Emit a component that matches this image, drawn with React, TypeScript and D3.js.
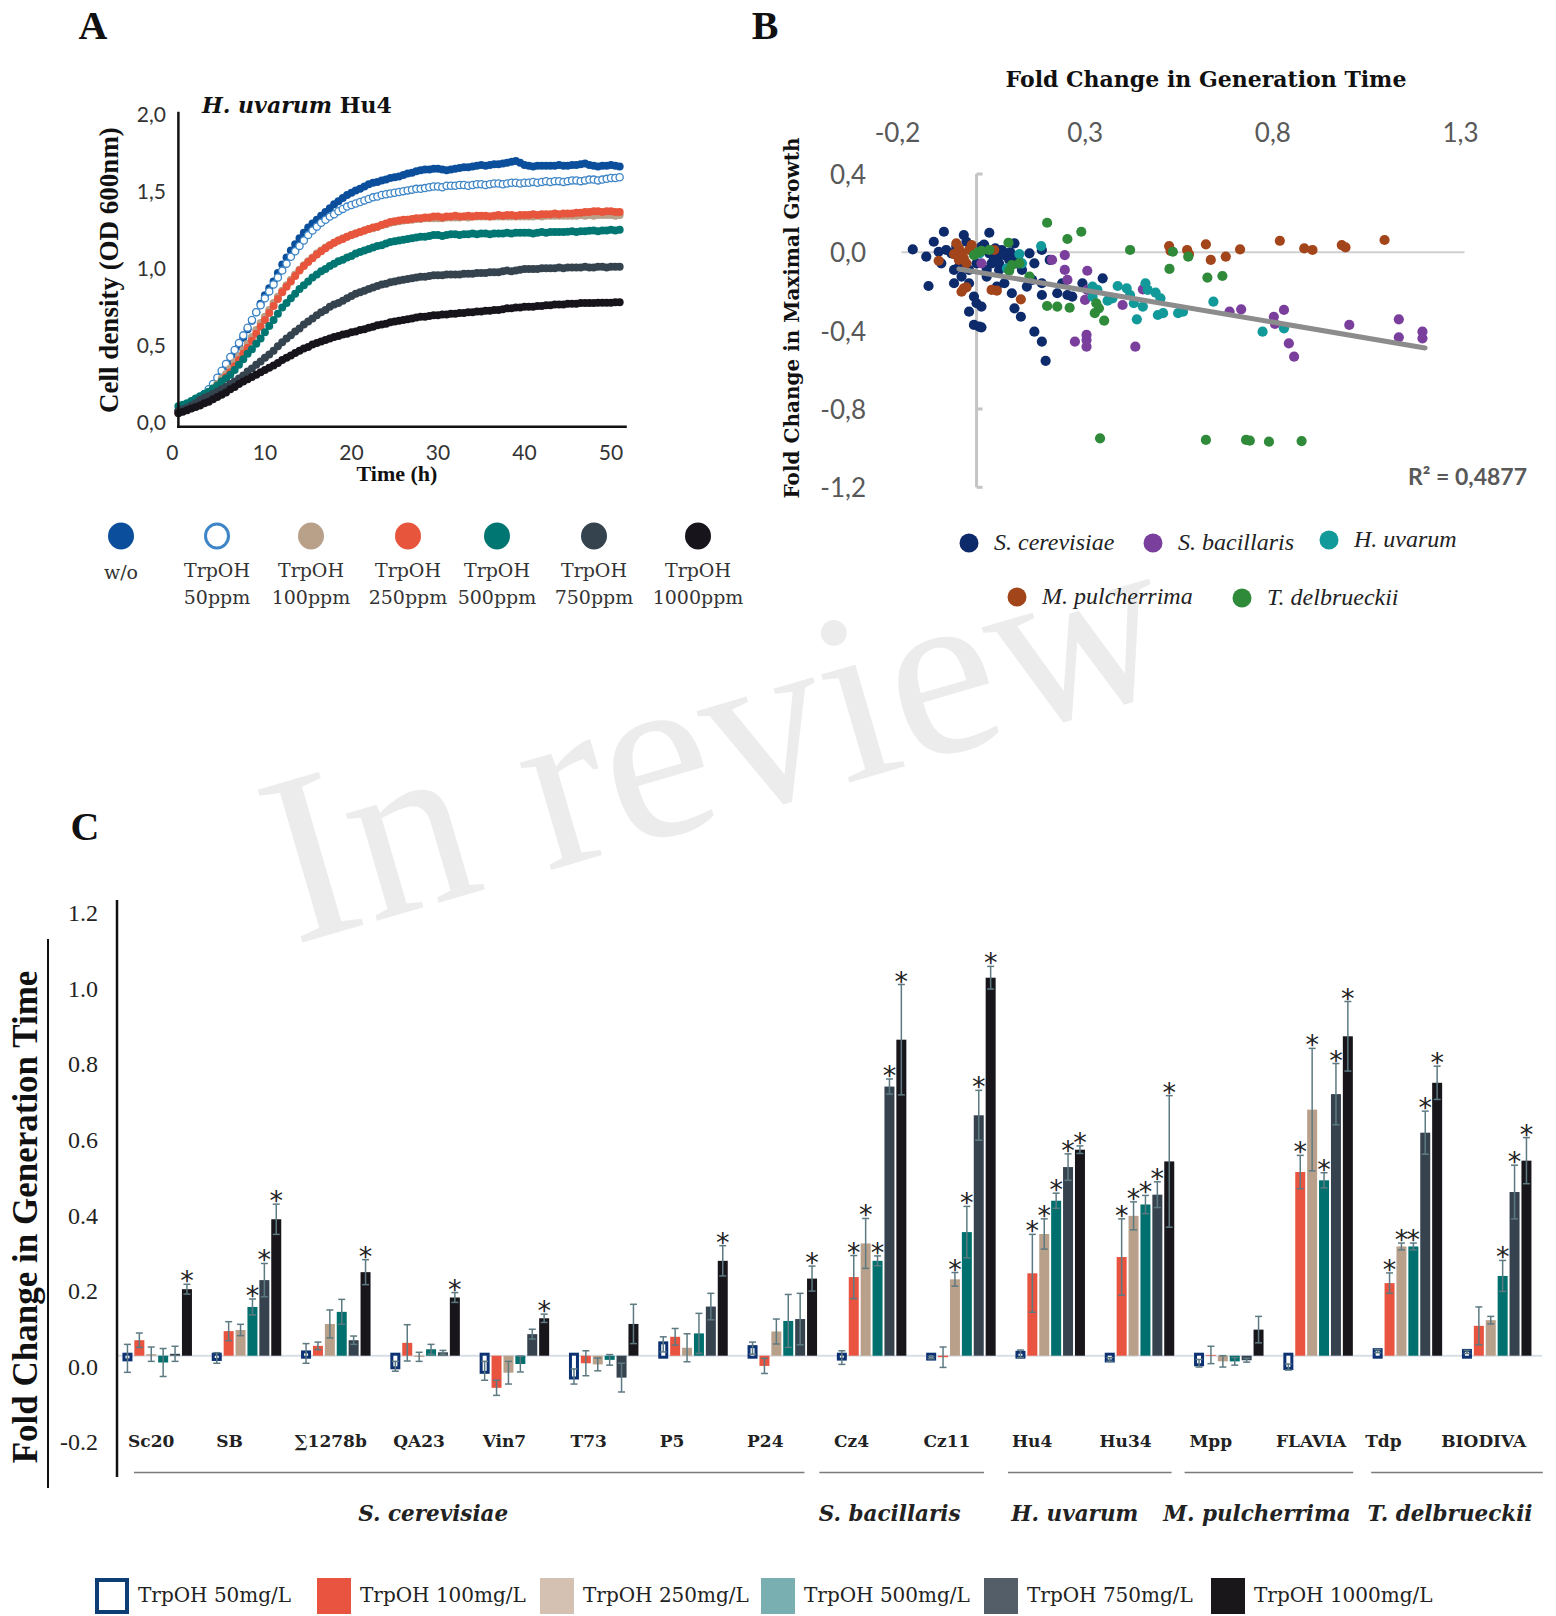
import React from "react";
import * as d3 from "d3";

// ---------------- Panel A data (OD600 every 0.5 h) ----------------
const timeHours = d3.range(0, 51.001, 0.5);
const odWithout = [
  0.07,0.085,0.10,0.115,0.13,0.15,0.17,0.195,0.22,0.25,
  0.30,0.345,0.39,0.44,0.49,0.545,0.60,0.655,0.71,0.765,
  0.82,0.865,0.91,0.965,1.02,1.065,1.11,1.15,1.19,1.225,
  1.26,1.285,1.31,1.335,1.36,1.385,1.41,1.43,1.45,1.47,
  1.485,1.50,1.51,1.525,1.54,1.55,1.555,1.565,1.57,1.58,
  1.585,1.59,1.60,1.61,1.615,1.625,1.63,1.635,1.635,1.64,
  1.64,1.635,1.63,1.635,1.64,1.645,1.65,1.65,1.655,1.66,
  1.665,1.66,1.665,1.67,1.67,1.675,1.68,1.685,1.69,1.68,
  1.665,1.66,1.655,1.66,1.66,1.66,1.66,1.66,1.665,1.66,
  1.66,1.665,1.665,1.67,1.675,1.665,1.66,1.655,1.66,1.66,
  1.665,1.66,1.655];
const od50 = [
  0.07,0.085,0.10,0.115,0.135,0.155,0.18,0.21,0.245,0.285,
  0.33,0.375,0.42,0.465,0.51,0.56,0.61,0.66,0.71,0.755,
  0.80,0.845,0.89,0.935,0.98,1.025,1.07,1.105,1.14,1.175,
  1.21,1.24,1.265,1.29,1.31,1.33,1.345,1.365,1.38,1.395,
  1.405,1.415,1.425,1.435,1.445,1.455,1.46,1.47,1.475,1.48,
  1.485,1.49,1.495,1.50,1.505,1.51,1.51,1.515,1.52,1.525,
  1.525,1.52,1.53,1.53,1.53,1.535,1.535,1.53,1.535,1.54,
  1.54,1.535,1.54,1.545,1.545,1.54,1.545,1.55,1.55,1.545,
  1.55,1.55,1.555,1.55,1.555,1.56,1.555,1.56,1.56,1.555,
  1.56,1.565,1.565,1.56,1.565,1.57,1.57,1.565,1.57,1.575,
  1.58,1.58,1.585];
const od100 = [
  0.06,0.075,0.09,0.105,0.125,0.145,0.165,0.19,0.215,0.245,
  0.28,0.31,0.345,0.385,0.425,0.465,0.505,0.55,0.595,0.64,
  0.68,0.725,0.77,0.81,0.85,0.885,0.92,0.955,0.985,1.015,
  1.04,1.065,1.09,1.11,1.13,1.145,1.16,1.175,1.19,1.20,
  1.21,1.22,1.23,1.24,1.25,1.255,1.265,1.275,1.28,1.29,
  1.295,1.30,1.305,1.31,1.31,1.315,1.315,1.32,1.32,1.32,
  1.32,1.32,1.325,1.325,1.325,1.325,1.33,1.325,1.33,1.33,
  1.33,1.33,1.33,1.33,1.33,1.33,1.33,1.33,1.33,1.33,
  1.33,1.33,1.33,1.335,1.33,1.335,1.335,1.335,1.335,1.335,
  1.335,1.335,1.335,1.34,1.335,1.34,1.335,1.34,1.34,1.34,
  1.34,1.335,1.34];
const od250 = [
  0.06,0.075,0.09,0.105,0.12,0.135,0.155,0.175,0.20,0.23,
  0.26,0.29,0.32,0.36,0.40,0.44,0.48,0.525,0.57,0.615,
  0.66,0.705,0.75,0.795,0.84,0.875,0.91,0.945,0.98,1.01,
  1.035,1.06,1.085,1.105,1.125,1.145,1.16,1.175,1.185,1.20,
  1.21,1.22,1.23,1.24,1.25,1.26,1.265,1.275,1.285,1.295,
  1.30,1.305,1.31,1.31,1.315,1.32,1.32,1.325,1.325,1.33,
  1.33,1.325,1.33,1.33,1.335,1.33,1.33,1.335,1.33,1.335,
  1.335,1.335,1.33,1.335,1.34,1.335,1.34,1.34,1.335,1.34,
  1.34,1.34,1.345,1.34,1.345,1.345,1.345,1.35,1.345,1.35,
  1.35,1.35,1.355,1.355,1.36,1.36,1.365,1.365,1.36,1.365,
  1.365,1.36,1.36];
const od500 = [
  0.10,0.11,0.12,0.135,0.15,0.165,0.18,0.195,0.215,0.235,
  0.26,0.28,0.305,0.335,0.37,0.405,0.44,0.47,0.505,0.54,
  0.58,0.62,0.66,0.70,0.74,0.77,0.80,0.83,0.86,0.885,
  0.91,0.935,0.955,0.975,0.99,1.01,1.025,1.04,1.05,1.065,
  1.075,1.09,1.10,1.11,1.12,1.13,1.14,1.145,1.155,1.165,
  1.17,1.175,1.18,1.185,1.19,1.195,1.20,1.20,1.205,1.21,
  1.21,1.205,1.21,1.215,1.215,1.21,1.215,1.215,1.22,1.215,
  1.22,1.22,1.215,1.22,1.22,1.22,1.225,1.22,1.225,1.225,
  1.225,1.225,1.22,1.225,1.23,1.225,1.23,1.23,1.23,1.23,
  1.232,1.235,1.23,1.235,1.235,1.238,1.24,1.235,1.24,1.24,
  1.245,1.24,1.245];
const od750 = [
  0.07,0.08,0.09,0.105,0.12,0.14,0.155,0.165,0.18,0.195,
  0.21,0.225,0.245,0.26,0.28,0.30,0.325,0.345,0.37,0.39,
  0.415,0.435,0.46,0.49,0.515,0.54,0.56,0.585,0.605,0.63,
  0.65,0.67,0.69,0.71,0.725,0.745,0.76,0.77,0.785,0.80,
  0.815,0.83,0.84,0.85,0.86,0.87,0.88,0.89,0.895,0.905,
  0.91,0.915,0.92,0.925,0.93,0.935,0.94,0.94,0.945,0.95,
  0.95,0.95,0.955,0.955,0.955,0.955,0.96,0.96,0.96,0.965,
  0.965,0.965,0.97,0.97,0.97,0.975,0.98,0.975,0.98,0.985,
  0.99,0.99,0.99,0.99,0.995,0.995,0.995,0.995,1.0,0.995,
  1.0,1.0,1.0,1.0,1.005,1.0,1.0,1.005,1.005,1.0,
  1.005,1.005,1.005];
const od1000 = [
  0.055,0.065,0.075,0.085,0.095,0.105,0.12,0.13,0.145,0.16,
  0.175,0.19,0.21,0.225,0.245,0.26,0.275,0.29,0.305,0.32,
  0.335,0.35,0.365,0.38,0.40,0.415,0.43,0.445,0.46,0.475,
  0.485,0.50,0.51,0.52,0.53,0.54,0.55,0.555,0.565,0.57,
  0.58,0.585,0.595,0.60,0.61,0.615,0.625,0.63,0.635,0.645,
  0.65,0.655,0.66,0.665,0.67,0.675,0.68,0.68,0.685,0.69,
  0.69,0.695,0.695,0.70,0.70,0.705,0.705,0.71,0.71,0.715,
  0.715,0.72,0.72,0.725,0.725,0.73,0.735,0.735,0.74,0.74,
  0.745,0.745,0.745,0.75,0.75,0.755,0.755,0.76,0.76,0.76,
  0.765,0.765,0.765,0.77,0.77,0.77,0.77,0.772,0.772,0.772,
  0.772,0.774,0.774];
const growthLabels = ["w/o", "TrpOH 50ppm", "TrpOH 100ppm", "TrpOH 250ppm", "TrpOH 500ppm", "TrpOH 750ppm", "TrpOH 1000ppm"];
const growthTicksX = [0, 10, 20, 30, 40, 50];
const growthTicksY = [0, 0.5, 1.0, 1.5, 2.0];

// ---------------- Panel B data ----------------
const ptsCerevisiae = [
  [-0.17,0.015],[-0.134,-0.022],[-0.114,0.054],[-0.087,0.105],[-0.101,0.003],[-0.094,-0.056],[-0.067,-0.005],
  [-0.06,-0.09],[-0.054,0.029],[-0.034,0.088],[-0.027,0.054],[-0.007,-0.005],[0.0,-0.056],[0.013,0.029],
  [0.034,0.1],[0.034,-0.005],[0.04,-0.056],[0.054,-0.022],[0.06,-0.09],[0.067,0.012],[0.081,-0.005],
  [0.094,-0.022],[0.101,0.046],[0.107,-0.056],[0.121,-0.09],[0.141,-0.005],[0.154,-0.056],[0.174,0.012],
  [0.195,-0.039],[0.148,-0.141],[0.174,-0.158],[0.174,-0.218],[0.215,-0.209],[0.255,-0.226],[0.282,-0.158],
  [0.336,-0.133],[-0.128,-0.172],[-0.06,-0.158],[-0.04,-0.124],[-0.02,-0.158],[-0.007,-0.226],[0.0,-0.26],
  [0.013,-0.277],[-0.02,-0.303],[0.007,-0.379],[0.013,-0.383],[-0.007,-0.371],[0.094,-0.209],[0.101,-0.286],
  [0.118,-0.329],[0.134,-0.175],[0.154,-0.405],[0.174,-0.456],[0.184,-0.554],[0.054,-0.175],[0.074,-0.158],
  [0.027,-0.124],[0.228,-0.158],[0.242,-0.218],[0.047,-0.03],[0.06,-0.056],[0.074,-0.014],[0.087,-0.039],
  [0.027,-0.09],[-0.02,-0.09],[-0.047,-0.073],[-0.081,0.012],[0.02,0.04],[0.05,0.02],[0.09,0.0],[0.11,-0.03]];
const ptsBacillaris = [
  [0.235,-0.014],[0.201,-0.039],[0.235,-0.09],[0.295,-0.094],[0.242,-0.141],[0.295,-0.192],[0.289,-0.243],
  [0.389,-0.269],[0.443,-0.189],[0.674,-0.303],[0.705,-0.291],[0.792,-0.329],[0.795,-0.366],[0.819,-0.294],
  [0.832,-0.465],[0.846,-0.533],[0.993,-0.371],[1.125,-0.342],[1.125,-0.434],[1.188,-0.405],[1.188,-0.439],
  [0.262,-0.456],[0.293,-0.422],[0.293,-0.448],[0.293,-0.482],[0.423,-0.482],[0.013,-0.056]];
const ptsUvarum = [
  [0.172,0.032],[0.114,-0.009],[0.081,-0.082],[0.309,-0.175],[0.322,-0.192],[0.362,-0.235],[0.376,-0.172],
  [0.4,-0.184],[0.409,-0.218],[0.419,-0.26],[0.427,-0.342],[0.443,-0.277],[0.45,-0.158],[0.456,-0.192],
  [0.477,-0.206],[0.49,-0.235],[0.483,-0.32],[0.497,-0.311],[0.537,-0.311],[0.55,-0.303],[0.631,-0.252],
  [0.762,-0.405],[0.819,-0.388],[0.349,-0.247],[0.309,-0.226],[-0.013,0.012],[0.008,-0.005],[0.121,-0.056]];
const ptsPulcherrima = [
  [-0.054,0.046],[-0.047,0.02],[-0.04,-0.005],[-0.034,-0.031],[-0.027,-0.056],[-0.047,-0.039],[-0.02,0.012],
  [-0.013,0.037],[-0.101,-0.043],[-0.06,-0.009],[0.047,0.012],[-0.034,-0.184],[-0.027,-0.179],[-0.04,-0.201],
  [0.04,-0.192],[0.054,-0.196],[0.118,-0.24],[0.513,0.032],[0.517,0.007],[0.561,0.012],[0.566,-0.009],
  [0.611,0.041],[0.624,-0.039],[0.664,-0.022],[0.702,0.015],[0.808,0.059],[0.873,0.02],[0.895,0.012],
  [0.973,0.037],[0.983,0.025],[1.087,0.063]];
const ptsDelbrueckii = [
  [0.188,0.151],[0.279,0.105],[0.242,0.068],[0.085,0.049],[0.409,0.012],[0.523,0.003],[0.564,-0.022],
  [0.003,-0.002],[0.013,0.007],[-0.007,-0.014],[0.094,-0.065],[0.087,-0.094],[0.141,-0.124],[0.514,-0.085],
  [0.615,-0.129],[0.655,-0.121],[0.188,-0.274],[0.215,-0.277],[0.248,-0.283],[0.319,-0.26],[0.326,-0.286],
  [0.315,-0.311],[0.34,-0.349],[0.329,-0.95],[0.611,-0.958],[0.718,-0.958],[0.728,-0.962],[0.779,-0.967],
  [0.866,-0.964],[0.114,-0.056],[0.034,0.012]];
const speciesNames = ["S. cerevisiae", "S. bacillaris", "H. uvarum", "M. pulcherrima", "T. delbrueckii"];
const scatterTicksX = [-0.2, 0.3, 0.8, 1.3];
const scatterTicksY = [0.4, 0.0, -0.4, -0.8, -1.2];
const trendRangeX = [-0.047, 1.195];
const trendSlope = -0.325;
const trendIntercept = -0.1;
const rSquared = "0,4877";

// ---------------- Panel C data ----------------
const strains = ["Sc20","SB","\u22111278b","QA23","Vin7","T73","P5","P24","Cz4","Cz11","Hu4","Hu34","Mpp","FLAVIA","Tdp","BIODIVA"];
const concLabels = ["TrpOH 50mg/L","TrpOH 100mg/L","TrpOH 250mg/L","TrpOH 500mg/L","TrpOH 750mg/L","TrpOH 1000mg/L"];
const gen50 = [-0.007,-0.006,0.006,-0.028,-0.04,-0.055,0.03,0.02,-0.005,-0.005,0.005,-0.01,-0.02,-0.03,0.012,0.01];
const gen100 = [0.041,0.065,0.026,0.034,-0.085,-0.02,0.05,-0.027,0.208,-0.004,0.218,0.261,0.002,0.486,0.192,0.079];
const gen250 = [0.004,0.068,0.084,-0.003,-0.045,-0.023,0.021,0.064,0.297,0.202,0.322,0.37,-0.015,0.651,0.289,0.094];
const gen500 = [-0.018,0.129,0.116,0.017,-0.022,-0.011,0.059,0.092,0.251,0.327,0.41,0.40,-0.015,0.464,0.289,0.211];
const gen750 = [0.005,0.2,0.041,0.009,0.057,-0.058,0.13,0.097,0.712,0.636,0.499,0.426,-0.012,0.692,0.59,0.433];
const gen1000 = [0.176,0.361,0.221,0.154,0.099,0.084,0.251,0.204,0.836,1.0,0.545,0.514,0.069,0.845,0.722,0.516];
const err50 = [0.037,0.014,0.026,0.013,0.025,0.02,0.02,0.016,0.018,0.003,0.01,0.005,0.01,0.008,0.004,0.004];
const err100 = [0.019,0.025,0.01,0.048,0.02,0.033,0.022,0.02,0.057,0.027,0.103,0.101,0.023,0.044,0.027,0.05];
const err250 = [0.019,0.015,0.037,0.012,0.03,0.017,0.037,0.033,0.066,0.018,0.04,0.037,0.015,0.162,0.009,0.01];
const err500 = [0.037,0.021,0.033,0.013,0.021,0.014,0.053,0.07,0.013,0.068,0.02,0.024,0.01,0.02,0.009,0.041];
const err750 = [0.02,0.044,0.011,0.005,0.013,0.038,0.035,0.068,0.02,0.066,0.035,0.034,0.005,0.081,0.057,0.071];
const err1000 = [0.013,0.04,0.033,0.013,0.011,0.052,0.04,0.033,0.146,0.03,0.01,0.174,0.035,0.092,0.044,0.061];
const sig50: number[] = [];
const sig100 = [8,10,11,13,14];
const sig250 = [8,9,10,11,13,14];
const sig500 = [1,8,9,10,11,13,14,15];
const sig750 = [1,8,9,10,11,13,14,15];
const sig1000 = [0,1,2,3,4,6,7,8,9,10,11,13,14,15];
const speciesFirst = [0, 8, 10, 12, 14];
const speciesLast = [7, 9, 11, 13, 15];
const genTicks = [-0.2, 0.0, 0.2, 0.4, 0.6, 0.8, 1.0, 1.2];

// ---------------- styles / layout ----------------
const SERIF = "'Liberation Serif', 'Times New Roman', serif";
const DSERIF = "'DejaVu Serif', serif";
const SANS = "Lato, 'Open Sans', sans-serif";

const growthColors = ["#0b4f9c", "#3d85c6", "#b9a089", "#e8553d", "#007672", "#35434f", "#17141c"];
const speciesColors = ["#0d2a6b", "#7a3f9d", "#12999a", "#a3451b", "#2f8a3a"];
const barColors = ["#ffffff", "#e8543f", "#b9a08a", "#00706e", "#36434f", "#19161b"];
const legendColors = ["#ffffff", "#e8543f", "#d4c1b2", "#7aafb1", "#545e68", "#1a171b"];
const strainLabelNudge = [-6, -17, -5, -6, -10, -15, -21, -17, -20, -14, -18, -14, -18, -7, -24, -13];
const speciesLineInsetL = [28, -1, 9, 7, 15];
const speciesLineInsetR = [16, 15, 6, 3, -8];
const speciesLabelShift = [-36, -12, -15, -12, -7];

export default function App() {
  // ---------- Panel A ----------
  const xA = d3.scaleLinear().domain([0, 50]).range([178.4, 611]);
  const yA = d3.scaleLinear().domain([0, 2]).range([421.7, 113.3]);
  const growthSeries = [odWithout, od50, od100, od250, od500, od750, od1000];
  const legendAX = [121, 217, 311, 408, 497, 594, 698];

  // ---------- Panel B ----------
  const xB = d3.scaleLinear().domain([-0.2, 1.3]).range([901.5, 1464.5]);
  const yB = d3.scaleLinear().domain([-1.2, 0.4]).range([487.3, 174.0]);
  const scatterSets = [ptsCerevisiae, ptsBacillaris, ptsUvarum, ptsPulcherrima, ptsDelbrueckii];
  const trendLine = d3.line<number>().x((v) => xB(v)).y((v) => yB(trendSlope * v + trendIntercept));
  const legendBPos = [[969, 543], [1153, 543], [1329, 540], [1017, 597], [1242, 598]];

  // ---------- Panel C ----------
  const x0 = d3.scaleBand<string>().domain(strains).range([106, 106 + 16 * 89.3]).paddingInner(0).paddingOuter(0);
  const x1 = d3.scaleBand<string>().domain(concLabels).range([15.5, 86.9]).paddingInner(0.16).paddingOuter(0.08);
  const yC = d3.scaleLinear().domain([0, 1]).range([1355.7, 977.7]);
  const genSeries = [gen50, gen100, gen250, gen500, gen750, gen1000];
  const errSeries = [err50, err100, err250, err500, err750, err1000];
  const sigSeries = [sig50, sig100, sig250, sig500, sig750, sig1000];
  const bw = x1.bandwidth();
  const groupMid = (i: number) =>
    (x0(strains[i]) as number) + ((x1(concLabels[0]) as number) + (x1(concLabels[5]) as number) + bw) / 2;
  const legendCX = [95, 317, 540, 761, 984, 1211];

  return (
    <svg width={1556} height={1616} style={{ position: "absolute", left: 0, top: 0, display: "block", background: "#fff" }}>
      <rect x={0} y={0} width={1556} height={1616} fill="#fff" />
      {/* watermark */}
      <text x={294} y={945} transform="rotate(-16.3 294 945)" fontFamily={SERIF} fontSize={243} fill="#ececec">In review</text>

      {/* panel letters */}
      <text x={93} y={39} textAnchor="middle" fontFamily={SERIF} fontWeight="bold" fontSize={40} fill="#111">A</text>
      <text x={765} y={39} textAnchor="middle" fontFamily={SERIF} fontWeight="bold" fontSize={40} fill="#111">B</text>
      <text x={85} y={840} textAnchor="middle" fontFamily={SERIF} fontWeight="bold" fontSize={40} fill="#111">C</text>

      {/* ================= Panel A ================= */}
      <g>
        <text x={202} y={113} fontFamily={DSERIF} fontWeight="bold" fontSize={22} fill="#111">
          <tspan fontStyle="italic">H. uvarum</tspan> Hu4
        </text>
        {growthSeries.map((vals, s) => (
          <g key={s}>
            {vals.map((v, i) =>
              s === 1 ? (
                <circle key={i} cx={xA(timeHours[i])} cy={yA(v)} r={3.6} fill="#fff" stroke={growthColors[s]} strokeWidth={1.3} />
              ) : (
                <circle key={i} cx={xA(timeHours[i])} cy={yA(v)} r={4} fill={growthColors[s]} />
              )
            )}
          </g>
        ))}
        <line x1={178.4} x2={178.4} y1={111.7} y2={426.7} stroke="#111" strokeWidth={2.5} />
        <line x1={177} x2={626.8} y1={426.7} y2={426.7} stroke="#111" strokeWidth={2.5} />
        {growthTicksY.map((t) => (
          <text key={t} x={166} y={yA(t)} textAnchor="end" dominantBaseline="central" fontFamily={SANS} fontSize={21} fill="#333">
            {t.toFixed(1).replace(".", ",")}
          </text>
        ))}
        {growthTicksX.map((t) => (
          <text key={t} x={xA(t) - (t === 0 ? 6 : 0)} y={451.7} textAnchor="middle" dominantBaseline="central" fontFamily={SANS} fontSize={21} fill="#333">
            {t}
          </text>
        ))}
        <text x={397} y={473} textAnchor="middle" dominantBaseline="central" fontFamily={SERIF} fontWeight="bold" fontSize={22} fill="#111">Time (h)</text>
        <text transform="translate(109 270) rotate(-90)" textAnchor="middle" dominantBaseline="central" fontFamily={SERIF} fontWeight="bold" fontSize={27} fill="#111">
          Cell density (OD 600nm)
        </text>
        {/* legend A */}
        {growthLabels.map((lab, i) => {
          const cx = legendAX[i];
          const parts = lab === "w/o" ? ["w/o"] : ["TrpOH", lab.replace("TrpOH ", "")];
          return (
            <g key={lab}>
              {i === 1 ? (
                <ellipse cx={cx} cy={536} rx={11.5} ry={12} fill="#fff" stroke={growthColors[i]} strokeWidth={3} />
              ) : (
                <ellipse cx={cx} cy={536} rx={13} ry={13.5} fill={growthColors[i]} />
              )}
              {parts.length === 1 ? (
                <text x={cx} y={572} textAnchor="middle" dominantBaseline="central" fontFamily={DSERIF} fontSize={19} fill="#333">{parts[0]}</text>
              ) : (
                <>
                  <text x={cx} y={570} textAnchor="middle" dominantBaseline="central" fontFamily={DSERIF} fontSize={19} fill="#333">{parts[0]}</text>
                  <text x={cx} y={597} textAnchor="middle" dominantBaseline="central" fontFamily={DSERIF} fontSize={19} fill="#333">{parts[1]}</text>
                </>
              )}
            </g>
          );
        })}
      </g>

      {/* ================= Panel B ================= */}
      <g>
        <text x={1206} y={79} textAnchor="middle" dominantBaseline="central" fontFamily={DSERIF} fontWeight="bold" fontSize={22} fill="#111">
          Fold Change in Generation Time
        </text>
        {scatterTicksX.map((t) => (
          <text key={t} x={xB(t) - 4} y={132} textAnchor="middle" dominantBaseline="central" fontFamily={SANS} fontSize={26} fill="#595959">
            {t.toFixed(1).replace(".", ",")}
          </text>
        ))}
        {scatterTicksY.map((t) => (
          <text key={t} x={866} y={yB(t)} textAnchor="end" dominantBaseline="central" fontFamily={SANS} fontSize={26} fill="#595959">
            {t.toFixed(1).replace(".", ",")}
          </text>
        ))}
        <line x1={xB(-0.2)} x2={xB(1.3)} y1={yB(0)} y2={yB(0)} stroke="#cfcfcf" strokeWidth={2} />
        <line x1={xB(0)} x2={xB(0)} y1={yB(0.4)} y2={yB(-1.2)} stroke="#c4c4c4" strokeWidth={3} />
        {scatterTicksY.map((t) => (
          <line key={t} x1={xB(0)} x2={xB(0) + 6} y1={yB(t)} y2={yB(t)} stroke="#c4c4c4" strokeWidth={3} />
        ))}
        {scatterSets.map((pts, s) => (
          <g key={s}>
            {pts.map((p, i) => (
              <circle key={i} cx={xB(p[0])} cy={yB(p[1])} r={5.1} fill={speciesColors[s]} />
            ))}
          </g>
        ))}
        <path d={trendLine(trendRangeX) as string} stroke="#8c8c8c" strokeWidth={5} strokeLinecap="round" fill="none" />
        <text x={1527} y={476} textAnchor="end" dominantBaseline="central" fontFamily={SANS} fontWeight="bold" fontSize={23} fill="#595959">
          R² = {rSquared}
        </text>
        <text transform="translate(792 318) rotate(-90)" textAnchor="middle" dominantBaseline="central" fontFamily={DSERIF} fontWeight="bold" fontSize={20} fill="#111">
          Fold Change in Maximal Growth
        </text>
        {/* legend B */}
        {speciesNames.map((name, i) => {
          const pos = legendBPos[i];
          return (
            <g key={name}>
              <circle cx={pos[0]} cy={pos[1]} r={9.5} fill={speciesColors[i]} />
              <text x={pos[0] + 25} y={pos[1] - 1} dominantBaseline="central" fontFamily={SERIF} fontStyle="italic" fontSize={24} fill="#222">{name}</text>
            </g>
          );
        })}
      </g>

      {/* ================= Panel C ================= */}
      <g>
        <line x1={118} x2={1542} y1={yC(0)} y2={yC(0)} stroke="#d8dee6" strokeWidth={2} />
        {genSeries.map((vals, c) => (
          <g key={c}>
            {vals.map((v, i) => {
              const bx = (x0(strains[i]) as number) + (x1(concLabels[c]) as number);
              const top = Math.min(yC(v), yC(0));
              const h = Math.abs(yC(v) - yC(0));
              return c === 0 ? (
                <rect key={i} x={bx + 1.5} y={top - 1.5} width={bw - 3} height={Math.max(h, 1) + 3} fill="#fff" stroke="#0c3274" strokeWidth={3} />
              ) : (
                <rect key={i} x={bx} y={top} width={bw} height={Math.max(h, 0.5)} fill={barColors[c]} />
              );
            })}
          </g>
        ))}
        {genSeries.map((vals, c) => (
          <g key={"e" + c} stroke="#5d7a82" strokeWidth={1.5}>
            {vals.map((v, i) => {
              const cx = (x0(strains[i]) as number) + (x1(concLabels[c]) as number) + bw / 2;
              const e = errSeries[c][i];
              return (
                <g key={i}>
                  <line x1={cx} x2={cx} y1={yC(v + e)} y2={yC(v - e)} />
                  <line x1={cx - 3.5} x2={cx + 3.5} y1={yC(v + e)} y2={yC(v + e)} />
                  <line x1={cx - 3.5} x2={cx + 3.5} y1={yC(v - e)} y2={yC(v - e)} />
                </g>
              );
            })}
          </g>
        ))}
        {sigSeries.map((idx, c) => (
          <g key={"s" + c}>
            {idx.map((i) => {
              const cx = (x0(strains[i]) as number) + (x1(concLabels[c]) as number) + bw / 2;
              const v = genSeries[c][i];
              const e = errSeries[c][i];
              return (
                <text key={i} x={cx} y={yC(v + e) + 6} textAnchor="middle" fontFamily="'DejaVu Sans', sans-serif" fontSize={27} fill="#222">*</text>
              );
            })}
          </g>
        ))}
        <line x1={117} x2={117} y1={900} y2={1477} stroke="#111" strokeWidth={2.5} />
        {genTicks.map((t) => (
          <text key={t} x={98} y={yC(t) + 11} textAnchor="end" dominantBaseline="central" fontFamily={SERIF} fontSize={24} fill="#222">
            {t.toFixed(1)}
          </text>
        ))}
        <line x1={48} x2={48} y1={939} y2={1488} stroke="#111" strokeWidth={2} />
        <text transform="translate(25 1217) rotate(-90)" textAnchor="middle" dominantBaseline="central" fontFamily={SERIF} fontWeight="bold" fontSize={35} fill="#111">
          Fold Change in Generation Time
        </text>
        {strains.map((s, i) => (
          <text key={s} x={groupMid(i) + strainLabelNudge[i]} y={1441} textAnchor="middle" dominantBaseline="central" fontFamily={DSERIF} fontWeight="bold" fontSize={17} fill="#222">
            {s}
          </text>
        ))}
        {speciesNames.map((name, k) => {
          const left = (x0(strains[speciesFirst[k]]) as number) + speciesLineInsetL[k];
          const right = (x0(strains[speciesLast[k]]) as number) + x0.bandwidth() - speciesLineInsetR[k];
          return (
            <g key={name}>
              <line x1={left} x2={right} y1={1472.5} y2={1472.5} stroke="#7a7a7a" strokeWidth={1.5} />
              <text x={(left + right) / 2 + speciesLabelShift[k]} y={1513} textAnchor="middle" dominantBaseline="central" fontFamily={DSERIF} fontWeight="bold" fontStyle="italic" fontSize={21.5} fill="#222">
                {name}
              </text>
            </g>
          );
        })}
        {/* legend C */}
        {concLabels.map((lab, c) => (
          <g key={lab}>
            {c === 0 ? (
              <rect x={legendCX[c] + 2} y={1580} width={30} height={32} fill="#fff" stroke="#0c3d73" strokeWidth={4} />
            ) : (
              <rect x={legendCX[c]} y={1578} width={34} height={36} fill={legendColors[c]} />
            )}
            <text x={legendCX[c] + 43} y={1595} dominantBaseline="central" fontFamily={DSERIF} fontSize={20} fill="#222">{lab}</text>
          </g>
        ))}
      </g>
    </svg>
  );
}
